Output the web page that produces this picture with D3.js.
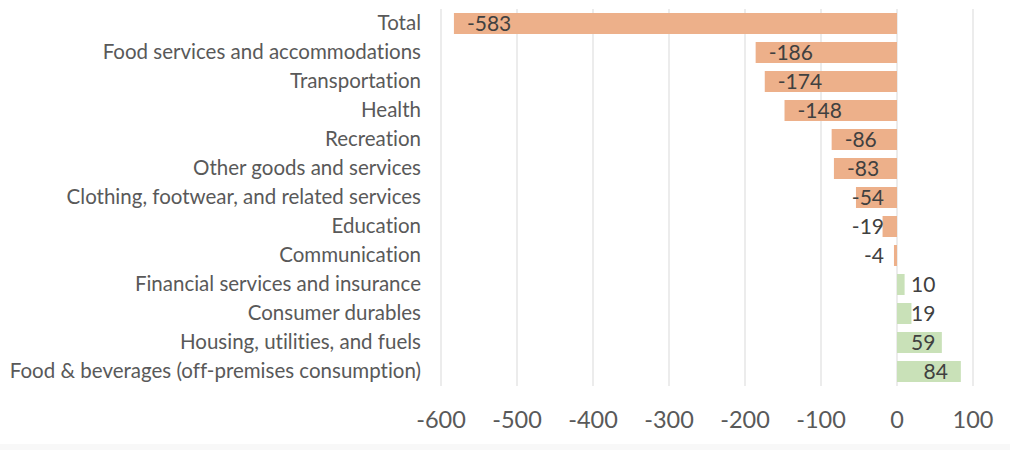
<!DOCTYPE html>
<html>
<head>
<meta charset="utf-8">
<script src="https://cdn.jsdelivr.net/npm/d3@7"></script>
<style>
  body { margin: 0; background: #fff; }
  svg { display: block; }
  text { font-variant-ligatures: none; font-feature-settings: "liga" 0, "clig" 0; }
</style>
</head>
<body>
<svg id="chart"></svg>
<script>
const width = 1010
const height = 450

const categories = [
    'Total',
    'Food services and accommodations',
    'Transportation',
    'Health',
    'Recreation',
    'Other goods and services',
    'Clothing, footwear, and related services',
    'Education',
    'Communication',
    'Financial services and insurance',
    'Consumer durables',
    'Housing, utilities, and fuels',
    'Food & beverages (off-premises consumption)'
]
const values = [-583, -186, -174, -148, -86, -83, -54, -19, -4, 10, 19, 59, 84]
const ticks = [-600, -500, -400, -300, -200, -100, 0, 100]

const font = 'Lato, "Open Sans", sans-serif'

const svg = d3.select('#chart')
    .attr('width', width)
    .attr('height', height)

// faint strip along the bottom edge
svg.append('rect')
    .attr('x', 0).attr('y', 444)
    .attr('width', width).attr('height', height - 444)
    .attr('fill', '#f8f8f8')

const x = d3.scaleLinear()
    .domain([-600, 100])
    .range([441, 973])

const y = d3.scaleBand()
    .domain(categories)
    .range([9, 386])
    .paddingInner(0.276)
    .paddingOuter(0.138)

// gridlines
svg.append('g')
    .selectAll('line')
    .data(ticks)
    .join('line')
    .attr('x1', d => x(d)).attr('x2', d => x(d))
    .attr('y1', 9).attr('y2', 386)
    .attr('stroke', '#d9d9d9')
    .attr('stroke-width', 1)

// bars
svg.append('g')
    .selectAll('rect')
    .data(values)
    .join('rect')
    .attr('x', d => Math.min(x(d), x(0)))
    .attr('y', (d, i) => y(categories[i]))
    .attr('width', d => Math.abs(x(d) - x(0)))
    .attr('height', y.bandwidth())
    .attr('fill', d => d < 0 ? '#edb08a' : '#c9e1b8')

// category labels
svg.append('g')
    .selectAll('text')
    .data(categories)
    .join('text')
    .attr('x', 421)
    .attr('y', d => y(d) + y.bandwidth() / 2)
    .attr('dy', '0.33em')
    .attr('text-anchor', 'end')
    .attr('fill', '#595959')
    .style('font-family', font)
    .style('font-size', '20.5px')
    .text(d => d)

// x axis tick labels
svg.append('g')
    .selectAll('text')
    .data(ticks)
    .join('text')
    .attr('x', d => x(d))
    .attr('y', 420)
    .attr('dy', '0.35em')
    .attr('text-anchor', 'middle')
    .attr('fill', '#595959')
    .style('font-family', font)
    .style('font-size', '23.5px')
    .text(d => d)

// data labels: inside the bar end when they fit, else pushed past the zero line
const pad = 13
svg.append('g')
    .selectAll('text')
    .data(values)
    .join('text')
    .attr('y', (d, i) => y(categories[i]) + y.bandwidth() / 2)
    .attr('dy', '0.34em')
    .attr('fill', '#404040')
    .style('font-family', font)
    .style('font-size', '21px')
    .text(d => d)
    .each(function(d) {
        const w = this.getComputedTextLength()
        let start
        if (d < 0) start = Math.min(x(d) + pad, x(0) - pad - w)
        else start = Math.max(x(d) - pad - w, x(0) + pad + 1)
        d3.select(this).attr('x', start)
    })
</script>
</body>
</html>
